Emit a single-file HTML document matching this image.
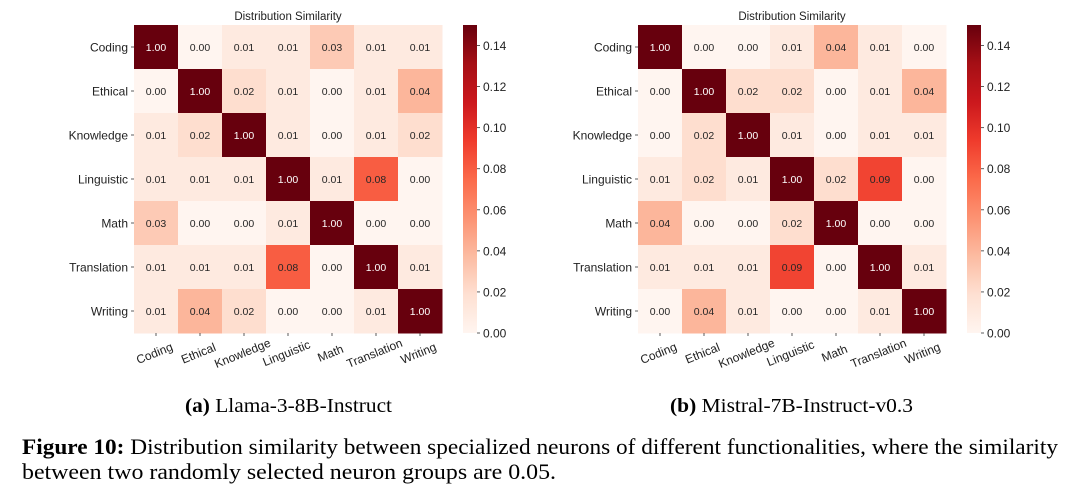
<!DOCTYPE html>
<html><head><meta charset="utf-8">
<style>
body{margin:0;background:#fff;width:1080px;height:493px;overflow:hidden;}
svg{display:block;}
.cap{font-family:"Liberation Serif",serif;}
</style></head>
<body>
<svg id="fig" width="1080" height="493" viewBox="0 0 1080 493">
<defs>
<linearGradient id="cbgrad" x1="0" y1="1" x2="0" y2="0">
<stop offset="0" stop-color="#fff5f0"/><stop offset="0.125" stop-color="#fee0d2"/><stop offset="0.25" stop-color="#fcbba1"/><stop offset="0.375" stop-color="#fc9272"/><stop offset="0.5" stop-color="#fb6a4a"/><stop offset="0.625" stop-color="#ef3b2c"/><stop offset="0.75" stop-color="#cb181d"/><stop offset="0.875" stop-color="#a50f15"/><stop offset="1" stop-color="#67000d"/>
</linearGradient>
</defs>
<text class="cap" x="185" y="412" font-size="20" textLength="207" lengthAdjust="spacingAndGlyphs"><tspan font-weight="bold">(a)</tspan> Llama-3-8B-Instruct</text>
<text class="cap" x="670" y="412" font-size="20" textLength="243" lengthAdjust="spacingAndGlyphs"><tspan font-weight="bold">(b)</tspan> Mistral-7B-Instruct-v0.3</text>
<text class="cap" x="22" y="454" font-size="22" textLength="1036" lengthAdjust="spacingAndGlyphs"><tspan font-weight="bold">Figure 10:</tspan> Distribution similarity between specialized neurons of different functionalities, where the similarity</text>
<text class="cap" x="22" y="479" font-size="22" textLength="534" lengthAdjust="spacingAndGlyphs">between two randomly selected neuron groups are 0.05.</text>
</svg>
<script>
const categories = ["Coding","Ethical","Knowledge","Linguistic","Math","Translation","Writing"];
const llamaValues = [
 [1.00,0.00,0.01,0.01,0.03,0.01,0.01],
 [0.00,1.00,0.02,0.01,0.00,0.01,0.04],
 [0.01,0.02,1.00,0.01,0.00,0.01,0.02],
 [0.01,0.01,0.01,1.00,0.01,0.08,0.00],
 [0.03,0.00,0.00,0.01,1.00,0.00,0.00],
 [0.01,0.01,0.01,0.08,0.00,1.00,0.01],
 [0.01,0.04,0.02,0.00,0.00,0.01,1.00]];
const mistralValues = [
 [1.00,0.00,0.00,0.01,0.04,0.01,0.00],
 [0.00,1.00,0.02,0.02,0.00,0.01,0.04],
 [0.00,0.02,1.00,0.01,0.00,0.01,0.01],
 [0.01,0.02,0.01,1.00,0.02,0.09,0.00],
 [0.04,0.00,0.00,0.02,1.00,0.00,0.00],
 [0.01,0.01,0.01,0.09,0.00,1.00,0.01],
 [0.00,0.04,0.01,0.00,0.00,0.01,1.00]];
const cbTicks = [0.00,0.02,0.04,0.06,0.08,0.10,0.12,0.14];
const vmax = 0.15;

const NS="http://www.w3.org/2000/svg";
const svg=document.getElementById('fig');
const stops=[[0,[255,245,240]],[0.125,[254,224,210]],[0.25,[252,187,161]],[0.375,[252,146,114]],[0.5,[251,106,74]],[0.625,[239,59,44]],[0.75,[203,24,29]],[0.875,[165,15,21]],[1,[103,0,13]]];
function cmap(v){let t=Math.max(0,Math.min(1,v/vmax));
 for(let i=1;i<stops.length;i++){if(t<=stops[i][0]){const a=stops[i-1],b=stops[i];const f=(t-a[0])/(b[0]-a[0]);
  return 'rgb('+a[1].map((c,k)=>Math.round(c+(b[1][k]-c)*f)).join(',')+')';}}
 return 'rgb(103,0,13)';}
function el(tag,attrs,parent){const e=document.createElementNS(NS,tag);for(const k in attrs)e.setAttribute(k,attrs[k]);(parent||svg).appendChild(e);return e;}
const F='"Liberation Sans","DejaVu Sans",sans-serif';

function drawHeatmap(x0,y0,cbx,values,name){
 const cell=44, n=categories.length, H=cell*n;
 const g=el('g',{});
 
 
 const xS=i=>x0+i*cell, yS=j=>y0+j*cell;
 const t=el('text',{x:x0+H/2,y:y0-5,'text-anchor':'middle','font-size':11.5,'font-family':F,fill:'#222'},g);
 t.textContent='Distribution Similarity';
 
 
 values.forEach((row,j)=>row.forEach((v,i)=>{
  const r=el('rect',{x:xS(i),y:yS(j),width:cell+0.5,height:cell+0.5,fill:cmap(v)},g);
  
  
  const tx=el('text',{x:xS(i)+cell/2,y:yS(j)+cell/2+4,'text-anchor':'middle','font-size':10.5,'font-family':F,fill:(v/vmax>0.6?'#fff':'#262626')},g);
  tx.textContent=v.toFixed(2);
  
  
 }));
 categories.forEach((c,j)=>{
  el('line',{x1:x0-3,x2:x0,y1:yS(j)+cell/2,y2:yS(j)+cell/2,stroke:'#333','stroke-width':0.8},g);
  const l=el('text',{x:x0-6,y:yS(j)+cell/2+4.5,'text-anchor':'end','font-size':12,'font-family':F,fill:'#222'},g);
  l.textContent=c;
  
  
 });
 categories.forEach((c,i)=>{
  const cx=xS(i)+cell/2;
  el('line',{x1:cx,x2:cx,y1:y0+H,y2:y0+H+3,stroke:'#333','stroke-width':0.8},g);
  const l=el('text',{x:0,y:0,'text-anchor':'middle','font-size':12,'font-family':F,fill:'#222',transform:'translate('+cx+','+(y0+H+24)+') rotate(-22)'},g);
  l.textContent=c;
  
  
 });
 const cb=el('rect',{x:cbx,y:y0,width:14,height:H,fill:'url(#cbgrad)'},g);
 
 
 cbTicks.forEach(v=>{
  const y=y0+H-v/vmax*H;
  el('line',{x1:cbx+14,x2:cbx+17,y1:y,y2:y,stroke:'#333','stroke-width':0.8},g);
  const l=el('text',{x:cbx+20,y:y+4.5,'font-size':12,'font-family':F,fill:'#222'},g);
  l.textContent=v.toFixed(2);
  
  
 });
}
drawHeatmap(134,25,463,llamaValues,'llama');
drawHeatmap(638,25,967,mistralValues,'mistral');
</script>
</body></html>
